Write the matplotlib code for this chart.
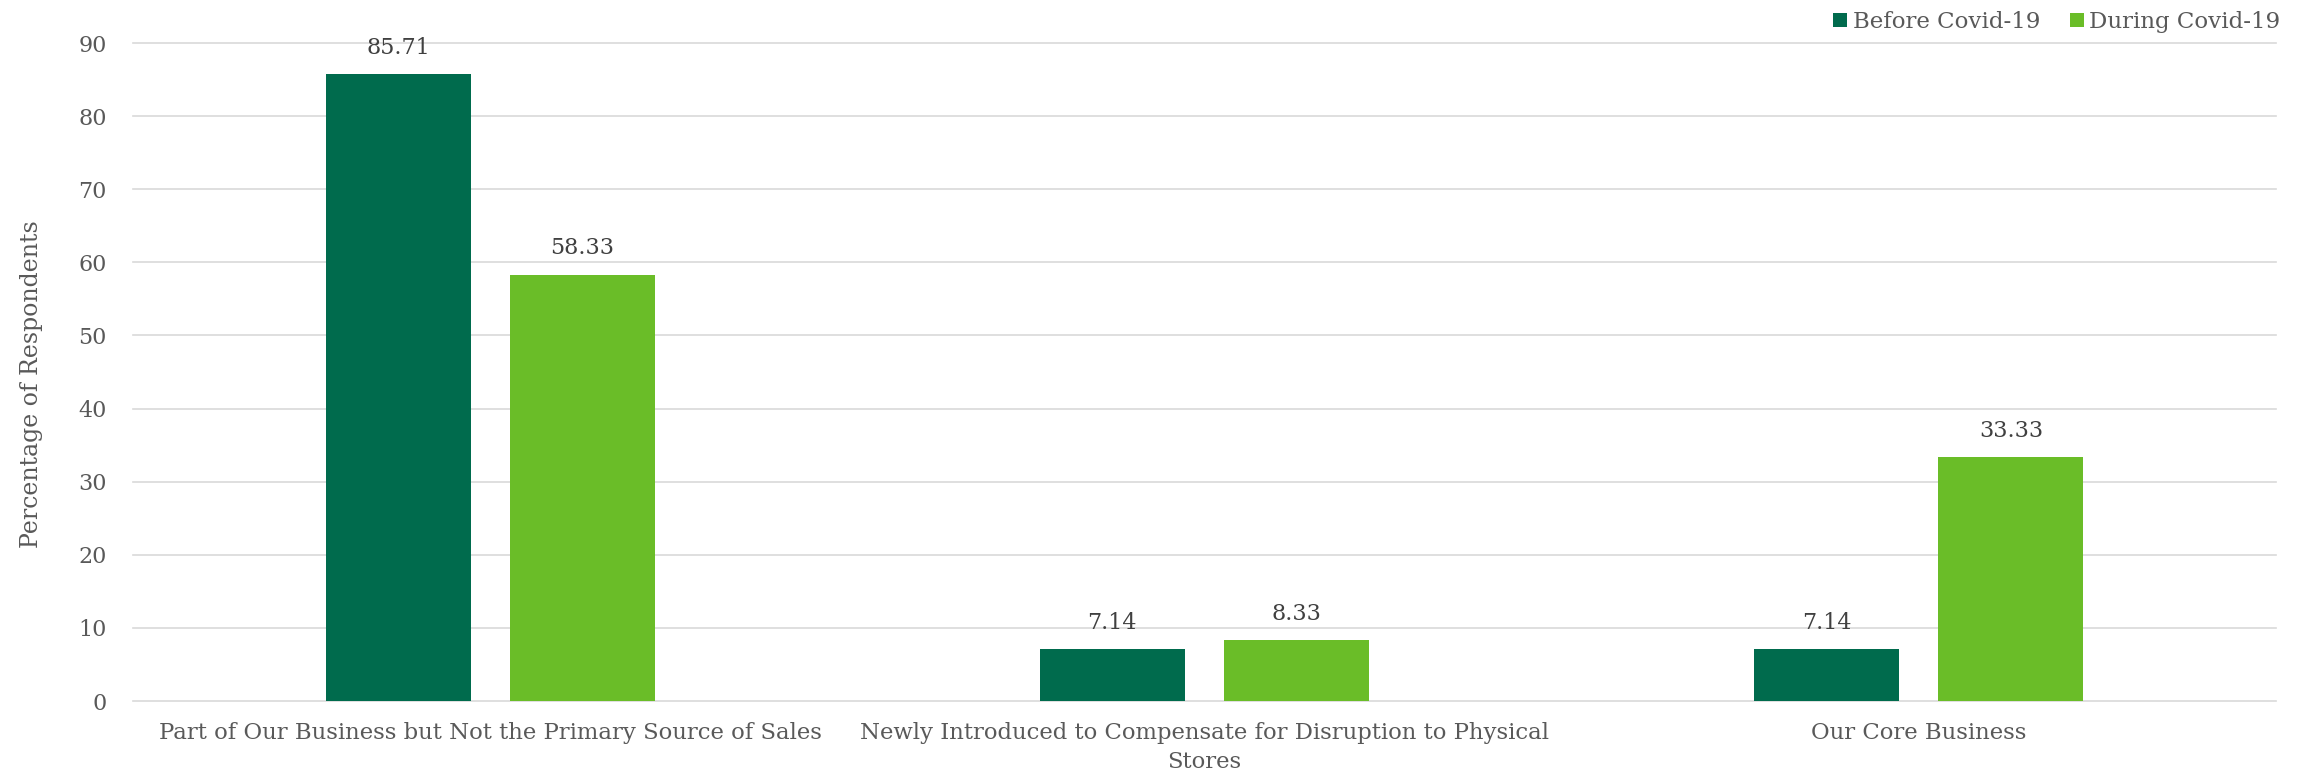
import matplotlib
matplotlib.use("Agg")
import matplotlib.pyplot as plt
import numpy as np
from matplotlib.patches import Patch

# Data
categories = [
    "Part of Our Business but Not the Primary Source of Sales",
    "Newly Introduced to Compensate for Disruption to Physical\nStores",
    "Our Core Business",
]
series_names = ["Before Covid-19", "During Covid-19"]
before_covid = [85.71, 7.14, 7.14]
during_covid = [58.33, 8.33, 33.33]
y_ticks = [0, 10, 20, 30, 40, 50, 60, 70, 80, 90]

colors = ["#006B4D", "#6ABD28"]
text_grey = "#595959"
label_grey = "#404040"
grid_grey = "#D9D9D9"

plt.rcParams["font.family"] = ["DejaVu Serif"]

fig = plt.figure(figsize=(23.1, 7.78), dpi=100)
ax = fig.add_axes([0.05758, 0.09897, 0.9277, 0.84576])

x = np.arange(len(categories))
width = 0.203
offset = 0.129

for vals, off, col in zip([before_covid, during_covid], [-offset, offset], colors):
    bars = ax.bar(x + off, vals, width=width, color=col, zorder=3)
    for b, v in zip(bars, vals):
        ax.annotate(f"{v:.2f}", xy=(b.get_x() + b.get_width() / 2, v),
                    xytext=(0, 11), textcoords="offset points",
                    ha="center", va="bottom", fontsize=16, color=label_grey)

ax.set_xlim(-0.5, len(categories) - 0.5)
ax.set_ylim(0, 90)
ax.set_yticks(y_ticks)
ax.set_yticklabels([str(t) for t in y_ticks])
ax.set_xticks(x)
ax.set_xticklabels(categories, linespacing=1.4)

ax.tick_params(axis="y", length=0, pad=19, labelsize=16, labelcolor=text_grey)
ax.tick_params(axis="x", length=0, pad=15, labelsize=16.4, labelcolor=text_grey)

ax.grid(axis="y", color=grid_grey, linewidth=1.2, zorder=0)
for gl in ax.get_ygridlines():
    gl.set_clip_on(False)
ax.set_axisbelow(True)
for s in ax.spines.values():
    s.set_visible(False)

ax.set_ylabel("Percentage of Respondents", fontsize=17, color=text_grey, labelpad=25)
ax.yaxis.label.set_y(0.482)

handles = [Patch(facecolor=c, edgecolor="none") for c in colors]
fig.legend(handles, series_names, loc="upper right",
           bbox_to_anchor=(2284 / 2310, 0.99), ncol=2, frameon=False,
           fontsize=16.5, labelcolor=text_grey, handlelength=0.6,
           handleheight=0.6, handletextpad=0.25, columnspacing=1.3,
           borderpad=0.15, borderaxespad=0)

fig.savefig("out.png", dpi=100, facecolor="white")
